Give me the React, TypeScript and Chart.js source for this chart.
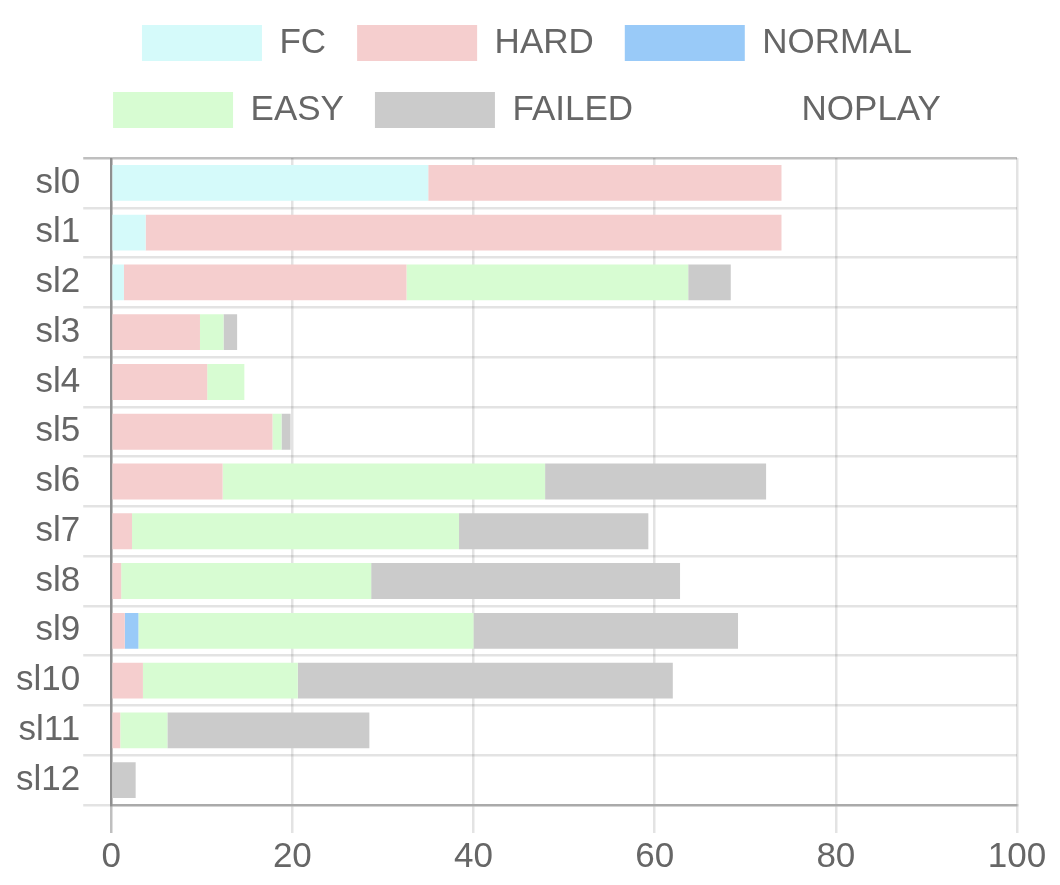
import React, { useEffect, useRef } from "react";
import { Chart, registerables } from "chart.js";

Chart.register(...registerables);

const categories = ["sl0", "sl1", "sl2", "sl3", "sl4", "sl5", "sl6", "sl7", "sl8", "sl9", "sl10", "sl11", "sl12"];
const fcValues = [35, 3.8, 1.4, 0, 0, 0, 0, 0, 0, 0, 0, 0, 0];
const hardValues = [39, 70.2, 31.2, 9.8, 10.6, 17.8, 12.3, 2.3, 1.1, 1.5, 3.5, 1.0, 0];
const normalValues = [0, 0, 0, 0, 0, 0, 0, 0, 0, 1.5, 0, 0, 0];
const easyValues = [0, 0, 31.1, 2.6, 4.1, 1.0, 35.6, 36.1, 27.6, 37.0, 17.1, 5.2, 0];
const failedValues = [0, 0, 4.7, 1.5, 0, 1.0, 24.4, 20.9, 34.1, 29.2, 41.4, 22.3, 2.7];
const noplayValues = [26, 26, 31.6, 86.1, 85.3, 80.2, 27.7, 40.7, 37.2, 30.8, 38, 71.5, 97.3];
const xTicks = [0, 20, 40, 60, 80, 100];

const GRID = "rgba(0,0,0,0.11)";
const ZERO = "rgba(0,0,0,0.25)";

export default function App() {
  const ref = useRef<HTMLCanvasElement | null>(null);
  useEffect(() => {
    if (!ref.current) return;
    const legendMargin = {
      id: "legendMargin",
      beforeInit(chart: any) {
        const orig = chart.legend.fit;
        chart.legend.fit = function () {
          orig.bind(chart.legend)();
          this.height += 20;
        };
      },
      afterLayout(chart: any) {
        if (chart.legend) {
          chart.legend.left += 12;
          chart.legend.right += 12;
        }
      },
    };
    const font = { family: "'Liberation Sans', Arial, Helvetica, sans-serif", size: 35 };
    const chart = new Chart(ref.current, {
      type: "bar",
      data: {
        labels: categories,
        datasets: [
          { label: "FC", data: fcValues, backgroundColor: "#d5fafa", borderWidth: 0 },
          { label: "HARD", data: hardValues, backgroundColor: "#f5cece", borderWidth: 0 },
          { label: "NORMAL", data: normalValues, backgroundColor: "#99caf8", borderWidth: 0 },
          { label: "EASY", data: easyValues, backgroundColor: "#d7fcd2", borderWidth: 0 },
          { label: "FAILED", data: failedValues, backgroundColor: "#cbcbcb", borderWidth: 0 },
          { label: "NOPLAY", data: noplayValues, backgroundColor: "rgba(0,0,0,0)", borderWidth: 0 },
        ],
      },
      options: {
        indexAxis: "y",
        animation: false,
        responsive: true,
        maintainAspectRatio: false,
        devicePixelRatio: 1,
        layout: { padding: { top: -6, left: 13, right: 43, bottom: 4 } },
        plugins: {
          legend: {
            position: "top",
            labels: {
              boxWidth: 120,
              boxHeight: 36,
              padding: 31,
              color: "#666",
              font,
            },
          },
          tooltip: { enabled: false },
        },
        scales: {
          x: {
            stacked: true,
            min: 0,
            max: 100,
            afterBuildTicks: (scale: any) => {
              scale.ticks = xTicks.map((v) => ({ value: v }));
            },
            ticks: { color: "#666", font, padding: 3 },
            grid: {
              color: (ctx: any) => (ctx.tick && ctx.tick.value === 0 ? ZERO : GRID),
              lineWidth: 2.5,
              tickLength: 28,
            },
            border: { color: ZERO, width: 2.5 },
          },
          y: {
            stacked: true,
            ticks: { color: "#666", font, padding: 3 },
            grid: {
              color: (ctx: any) => (ctx.index === 0 ? ZERO : GRID),
              lineWidth: 2.5,
              tickLength: 28,
            },
            border: { color: ZERO, width: 2.5 },
          },
        },
      },
      plugins: [legendMargin],
    } as any);
    return () => chart.destroy();
  }, []);
  return (
    <div style={{ position: "absolute", left: 0, top: 0, width: 1060, height: 885, background: "#fff" }}>
      <canvas ref={ref} />
    </div>
  );
}
